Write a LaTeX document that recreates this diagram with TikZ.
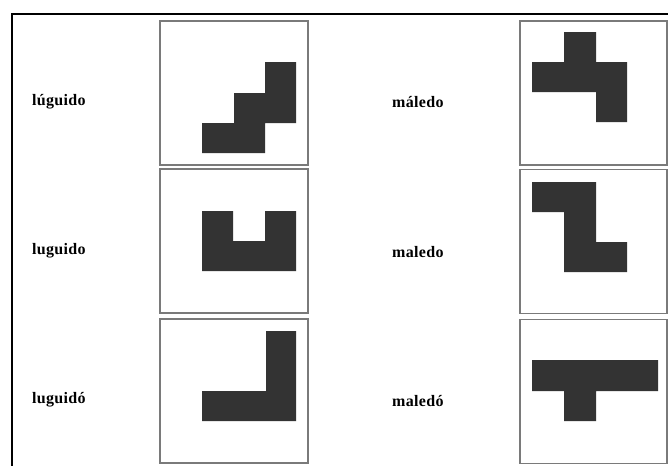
\documentclass[tikz,border=0pt]{standalone}
\usepackage{fontspec}
\setmainfont{Liberation Serif}[LetterSpace=2]
\definecolor{shapefill}{HTML}{333333}
\definecolor{boxline}{HTML}{7A7A7A}
\tikzset{
  card/.style={draw=boxline, line width=1.3pt, minimum width=148pt, minimum height=144pt, inner sep=0pt},
  word/.style={font=\fontsize{16}{19}\selectfont\bfseries, inner sep=0pt, anchor=west},
  blk/.style={fill=shapefill}
}
\begin{document}
\begin{tikzpicture}[x=1pt,y=-1pt]
\useasboundingbox (0,0) rectangle (668,466);
\fill[white] (0,0) rectangle (668,466);
% outer frame
\draw[line width=2.4pt, black] (668,14) -- (12,14) -- (12,466);
% cards
\node[card] (L1) at (234,93) {};
\node[card] (L2) at (234,241) {};
\node[card] (L3) at (234,391) {};
\node[card, minimum width=147pt] (R1) at (593.5,93) {};
\node[card, minimum width=147pt] (R2) at (593.5,241.5) {};
\node[card, minimum width=147pt] (R3) at (593.5,391.5) {};
% labels
\node[word] (w1) at (32,102) {lúguido};
\node[word] (w2) at (32,251) {luguido};
\node[word] (w3) at (32,400) {luguidó};
\node[word] (w4) at (392,102) {máledo};
\node[word] (w5) at (392,252) {maledo};
\node[word] (w6) at (392,401) {maledó};
% shapes
\fill[blk] (265,62) -- (296,62) -- (296,123) -- (265,123) -- (265,153) -- (202,153) -- (202,123) -- (234,123) -- (234,93) -- (265,93) -- cycle;
\fill[blk] (202,211) -- (233,211) -- (233,241) -- (265,241) -- (265,211) -- (296,211) -- (296,271) -- (202,271) -- cycle;
\fill[blk] (266,331) -- (296,331) -- (296,421) -- (202,421) -- (202,391) -- (266,391) -- cycle;
\fill[blk] (564,32) -- (596,32) -- (596,62) -- (627,62) -- (627,122) -- (596,122) -- (596,92) -- (532,92) -- (532,62) -- (564,62) -- cycle;
\fill[blk] (532,182) -- (596,182) -- (596,242) -- (627,242) -- (627,272) -- (564,272) -- (564,212) -- (532,212) -- cycle;
\fill[blk] (532,360) -- (658,360) -- (658,391) -- (596,391) -- (596,421) -- (564,421) -- (564,391) -- (532,391) -- cycle;
\end{tikzpicture}
\end{document}
